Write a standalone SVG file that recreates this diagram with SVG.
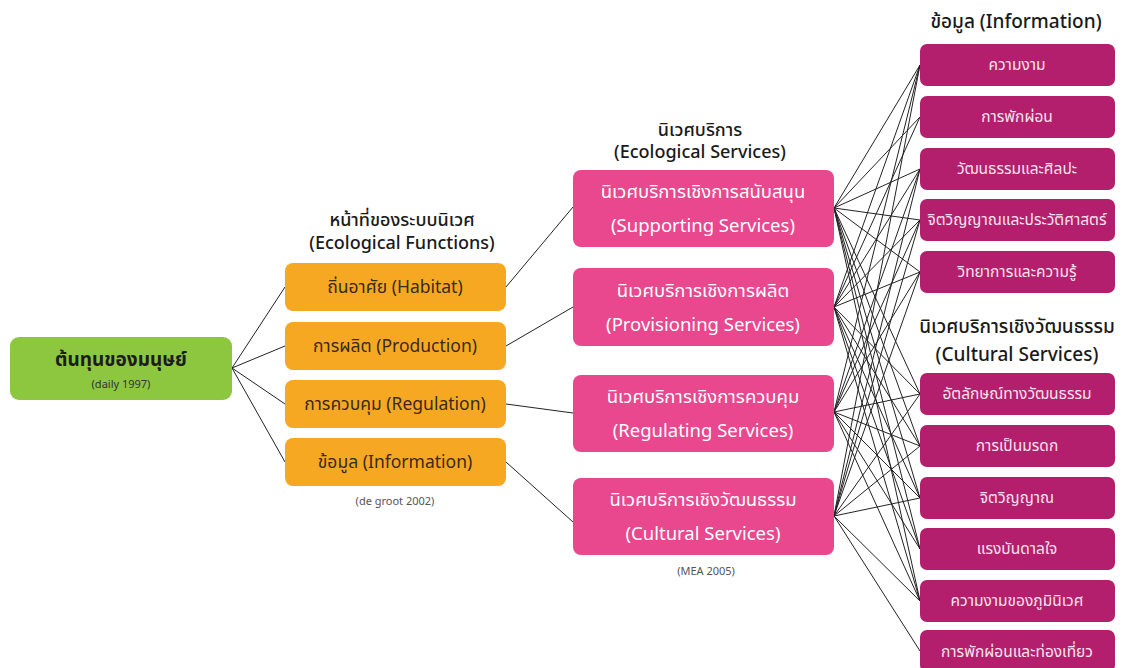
<svg xmlns="http://www.w3.org/2000/svg" width="1124" height="668" viewBox="0 0 1124 668">
<style>
text{font-family:"Noto Sans","Noto Sans Thai","DejaVu Sans",sans-serif;text-anchor:middle}
.hdr{font-size:18px;fill:#1a1a1a;font-weight:500}
.hdrb{font-size:19px;fill:#1a1a1a;font-weight:500}
.src{font-size:11px;fill:#555}
.g{fill:#8dc63f}
.o{fill:#f7a823}
.p{fill:#e9478e}
.m{fill:#b31f6c}
.ot{font-size:17.5px;fill:#3a2a1c}
.pt{font-size:18.5px;fill:#ffffff}
.mt{font-size:15.5px;fill:#fbe1ee}
.c line{stroke:#222;stroke-width:1}
</style>
<rect width="1124" height="668" fill="#ffffff"/>
<g id="headers">
<text class="hdr" x="402" y="226">หน้าที่ของระบบนิเวศ</text>
<text class="hdr" x="402" y="249">(Ecological Functions)</text>
<text class="hdr" x="700" y="136">นิเวศบริการ</text>
<text class="hdr" x="700" y="158">(Ecological Services)</text>
<text class="hdrb" x="1016" y="28">ข้อมูล (Information)</text>
<text class="hdrb" x="1017" y="333">นิเวศบริการเชิงวัฒนธรรม</text>
<text class="hdrb" x="1017" y="361">(Cultural Services)</text>
<text class="src" x="395" y="505">(de groot 2002)</text>
<text class="src" x="706" y="575">(MEA 2005)</text>
</g>
<g class="c" id="connectors">
<line x1="232" y1="368" x2="285" y2="287"/>
<line x1="232" y1="368" x2="285" y2="346"/>
<line x1="232" y1="368" x2="285" y2="404"/>
<line x1="232" y1="368" x2="285" y2="462"/>
<line x1="506" y1="287" x2="573" y2="207"/>
<line x1="506" y1="346" x2="573" y2="307"/>
<line x1="506" y1="404" x2="573" y2="413"/>
<line x1="506" y1="462" x2="573" y2="522"/>
<line x1="834" y1="208" x2="920" y2="65"/>
<line x1="834" y1="208" x2="920" y2="117"/>
<line x1="834" y1="208" x2="920" y2="169"/>
<line x1="834" y1="208" x2="920" y2="220"/>
<line x1="834" y1="208" x2="920" y2="272"/>
<line x1="834" y1="208" x2="920" y2="394"/>
<line x1="834" y1="208" x2="920" y2="446"/>
<line x1="834" y1="208" x2="920" y2="498"/>
<line x1="834" y1="208" x2="920" y2="549"/>
<line x1="834" y1="208" x2="920" y2="601"/>
<line x1="834" y1="307" x2="920" y2="65"/>
<line x1="834" y1="307" x2="920" y2="117"/>
<line x1="834" y1="307" x2="920" y2="169"/>
<line x1="834" y1="307" x2="920" y2="220"/>
<line x1="834" y1="307" x2="920" y2="272"/>
<line x1="834" y1="307" x2="920" y2="394"/>
<line x1="834" y1="307" x2="920" y2="446"/>
<line x1="834" y1="307" x2="920" y2="498"/>
<line x1="834" y1="307" x2="920" y2="549"/>
<line x1="834" y1="307" x2="920" y2="601"/>
<line x1="834" y1="412" x2="920" y2="65"/>
<line x1="834" y1="412" x2="920" y2="169"/>
<line x1="834" y1="412" x2="920" y2="220"/>
<line x1="834" y1="412" x2="920" y2="272"/>
<line x1="834" y1="412" x2="920" y2="394"/>
<line x1="834" y1="412" x2="920" y2="446"/>
<line x1="834" y1="412" x2="920" y2="498"/>
<line x1="834" y1="412" x2="920" y2="549"/>
<line x1="834" y1="412" x2="920" y2="601"/>
<line x1="834" y1="516" x2="920" y2="65"/>
<line x1="834" y1="516" x2="920" y2="169"/>
<line x1="834" y1="516" x2="920" y2="220"/>
<line x1="834" y1="516" x2="920" y2="272"/>
<line x1="834" y1="516" x2="920" y2="394"/>
<line x1="834" y1="516" x2="920" y2="446"/>
<line x1="834" y1="516" x2="920" y2="498"/>
<line x1="834" y1="516" x2="920" y2="601"/>
<line x1="834" y1="516" x2="920" y2="651"/>
</g>
<g id="n-human">
<rect class="g" x="10" y="337" width="222" height="63" rx="9"/>
<text x="121" y="366" style="font-size:19px;font-weight:bold;fill:#1c1c1c">ต้นทุนของมนุษย์</text>
<text x="121" y="388" style="font-size:11px;fill:#333">(daily 1997)</text>
</g>
<g id="n-habitat"><rect class="o" x="285" y="263" width="221" height="48" rx="8"/><text class="ot" x="395" y="293">ถิ่นอาศัย (Habitat)</text></g>
<g id="n-production"><rect class="o" x="285" y="322" width="221" height="48" rx="8"/><text class="ot" x="395" y="352">การผลิต (Production)</text></g>
<g id="n-regulation"><rect class="o" x="285" y="380" width="221" height="48" rx="8"/><text class="ot" x="395" y="410">การควบคุม (Regulation)</text></g>
<g id="n-information"><rect class="o" x="285" y="438" width="221" height="48" rx="8"/><text class="ot" x="395" y="468">ข้อมูล (Information)</text></g>
<g id="n-supporting"><rect class="p" x="573" y="170" width="261" height="77" rx="8"/><text class="pt" x="703" y="198">นิเวศบริการเชิงการสนับสนุน</text><text class="pt" x="703" y="232">(Supporting Services)</text></g>
<g id="n-provisioning"><rect class="p" x="573" y="268" width="261" height="78" rx="8"/><text class="pt" x="703" y="297">นิเวศบริการเชิงการผลิต</text><text class="pt" x="703" y="331">(Provisioning Services)</text></g>
<g id="n-regulating"><rect class="p" x="573" y="375" width="261" height="77" rx="8"/><text class="pt" x="703" y="403">นิเวศบริการเชิงการควบคุม</text><text class="pt" x="703" y="437">(Regulating Services)</text></g>
<g id="n-cultural"><rect class="p" x="573" y="478" width="261" height="77" rx="8"/><text class="pt" x="703" y="506">นิเวศบริการเชิงวัฒนธรรม</text><text class="pt" x="703" y="540">(Cultural Services)</text></g>
<g id="r1"><rect class="m" x="920" y="44" width="195" height="42" rx="7"/><text class="mt" x="1017" y="70">ความงาม</text></g>
<g id="r2"><rect class="m" x="920" y="96" width="195" height="42" rx="7"/><text class="mt" x="1017" y="122">การพักผ่อน</text></g>
<g id="r3"><rect class="m" x="920" y="148" width="195" height="42" rx="7"/><text class="mt" x="1017" y="174">วัฒนธรรมและศิลปะ</text></g>
<g id="r4"><rect class="m" x="920" y="199" width="195" height="42" rx="7"/><text class="mt" x="1017" y="225">จิตวิญญาณและประวัติศาสตร์</text></g>
<g id="r5"><rect class="m" x="920" y="251" width="195" height="42" rx="7"/><text class="mt" x="1017" y="277">วิทยาการและความรู้</text></g>
<g id="r6"><rect class="m" x="920" y="373" width="195" height="42" rx="7"/><text class="mt" x="1017" y="399">อัตลักษณ์ทางวัฒนธรรม</text></g>
<g id="r7"><rect class="m" x="920" y="425" width="195" height="42" rx="7"/><text class="mt" x="1017" y="451">การเป็นมรดก</text></g>
<g id="r8"><rect class="m" x="920" y="477" width="195" height="42" rx="7"/><text class="mt" x="1017" y="503">จิตวิญญาณ</text></g>
<g id="r9"><rect class="m" x="920" y="528" width="195" height="42" rx="7"/><text class="mt" x="1017" y="554">แรงบันดาลใจ</text></g>
<g id="r10"><rect class="m" x="920" y="580" width="195" height="42" rx="7"/><text class="mt" x="1017" y="606">ความงามของภูมินิเวศ</text></g>
<g id="r11"><rect class="m" x="920" y="630" width="195" height="42" rx="7"/><text class="mt" x="1017" y="657">การพักผ่อนและท่องเที่ยว</text></g>
</svg>
